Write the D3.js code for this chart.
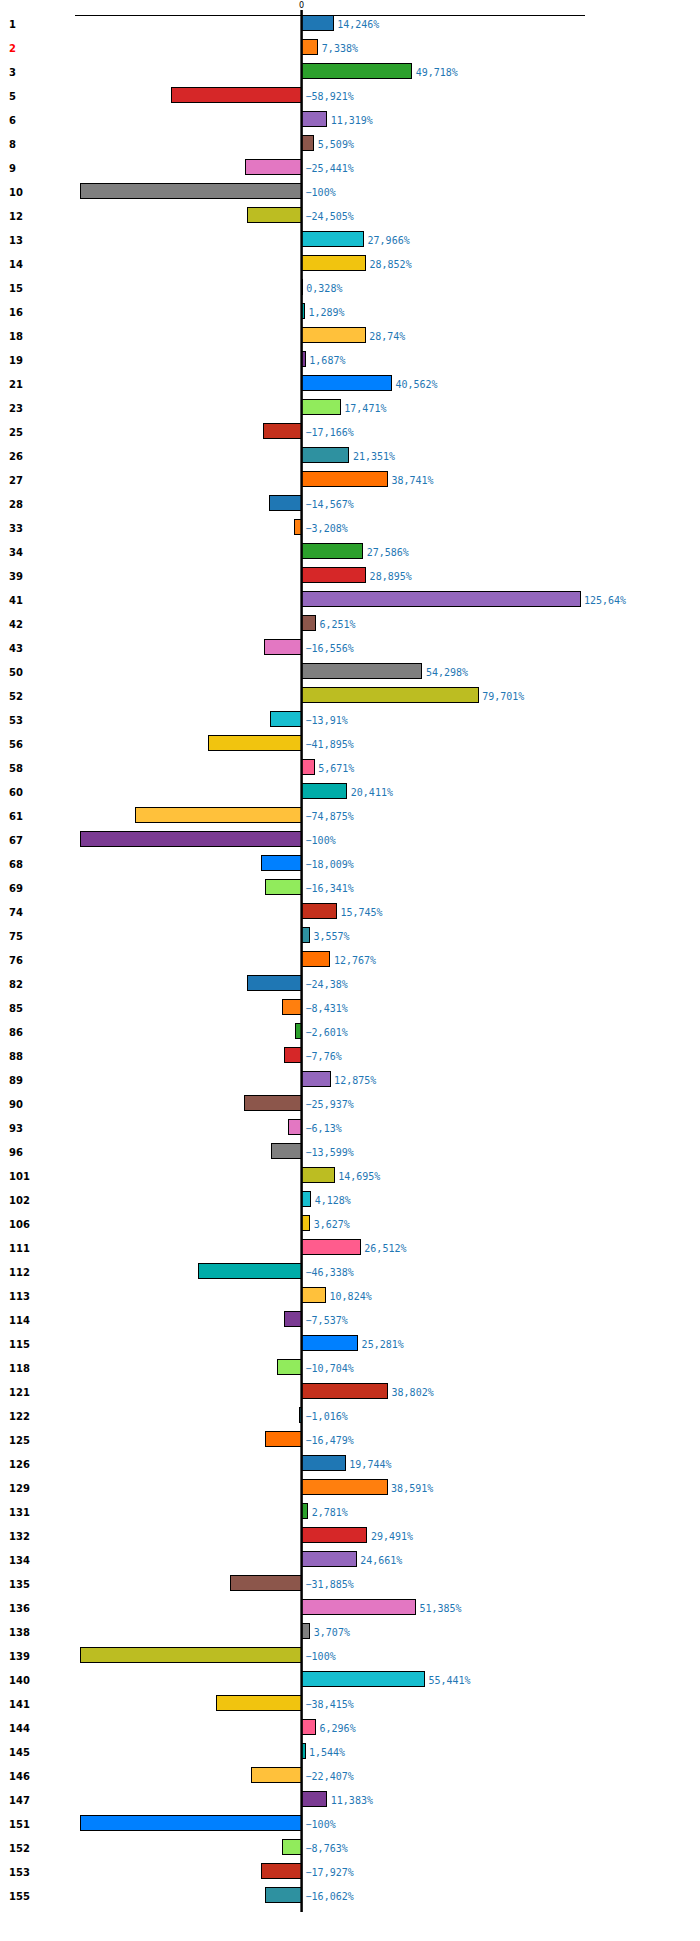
<!DOCTYPE html>
<html>
<head>
<meta charset="utf-8">
<script src="https://cdn.jsdelivr.net/npm/d3@7"></script>
<style>
  html, body { margin: 0; padding: 0; background: #fff; }
  svg { display: block; }
  text { -webkit-font-smoothing: none; }
</style>
</head>
<body>
<svg id="chart" width="700" height="1941"></svg>
<script>
const categories = ["1","2","3","5","6","8","9","10","12","13","14","15","16","18","19","21","23","25","26","27","28","33","34","39","41","42","43","50","52","53","56","58","60","61","67","68","69","74","75","76","82","85","86","88","89","90","93","96","101","102","106","111","112","113","114","115","118","121","122","125","126","129","131","132","134","135","136","138","139","140","141","144","145","146","147","151","152","153","155"];

const values = [14.246,7.338,49.718,-58.921,11.319,5.509,-25.441,-100,-24.505,27.966,28.852,0.328,1.289,28.74,1.687,40.562,17.471,-17.166,21.351,38.741,-14.567,-3.208,27.586,28.895,125.64,6.251,-16.556,54.298,79.701,-13.91,-41.895,5.671,20.411,-74.875,-100,-18.009,-16.341,15.745,3.557,12.767,-24.38,-8.431,-2.601,-7.76,12.875,-25.937,-6.13,-13.599,14.695,4.128,3.627,26.512,-46.338,10.824,-7.537,25.281,-10.704,38.802,-1.016,-16.479,19.744,38.591,2.781,29.491,24.661,-31.885,51.385,3.707,-100,55.441,-38.415,6.296,1.544,-22.407,11.383,-100,-8.763,-17.927,-16.062];

const highlighted = ["2"];

const palette = ["#1f77b4","#ff7f0e","#2ca02c","#d62728","#9467bd","#8c564b","#e377c2","#7f7f7f","#bcbd22","#17becf",
                 "#f1c40f","#ff5c8d","#00aca8","#ffc13b","#7b3b93","#0080ff","#91eb5c","#c4301c","#2e91a0","#ff7000"];

const xTicks = [0];

const data = categories.map((c, i) => ({ cat: c, value: values[i], idx: i }));

const svg = d3.select("#chart");

const x = d3.scaleLinear()
  .domain(d3.extent(values))
  .range([80, 580]);

const y = d3.scaleBand()
  .domain(categories)
  .range([6, 1911])
  .paddingInner(0.375)
  .paddingOuter(0.375);

const color = d3.scaleOrdinal().domain(d3.range(palette.length)).range(palette);

const locale = d3.formatLocale({ decimal: ",", thousands: ".", grouping: [3], currency: ["", ""] });
const fmt = locale.format(".3~f");

// top axis line
svg.append("line")
  .attr("x1", x.range()[0] - 5).attr("x2", x.range()[1] + 5)
  .attr("y1", 15.5).attr("y2", 15.5)
  .attr("stroke", "#000").attr("stroke-width", 1)
  .attr("shape-rendering", "crispEdges");

// bars
svg.append("g")
  .selectAll("rect")
  .data(data)
  .join("rect")
  .attr("x", d => x(Math.min(0, d.value)))
  .attr("y", d => y(d.cat))
  .attr("width", d => Math.abs(x(d.value) - x(0)))
  .attr("height", y.bandwidth())
  .attr("fill", d => color(d.idx % palette.length))
  .attr("stroke", "#000")
  .attr("stroke-width", 1)
  .attr("shape-rendering", "crispEdges");

// zero line
svg.append("line")
  .attr("x1", x(0)).attr("x2", x(0))
  .attr("y1", 10).attr("y2", 1912)
  .attr("stroke", "#000").attr("stroke-width", 2.5);

// tick label
svg.append("g")
  .selectAll("text")
  .data(xTicks)
  .join("text")
  .attr("x", d => x(d))
  .attr("y", 8)
  .attr("text-anchor", "middle")
  .attr("font-family", "DejaVu Sans, sans-serif")
  .attr("font-size", 8)
  .attr("fill", "#000")
  .text(d => d);

// category labels
svg.append("g")
  .selectAll("text")
  .data(data)
  .join("text")
  .attr("x", 9)
  .attr("y", d => y(d.cat) + y.bandwidth() / 2 + 5.3)
  .attr("font-family", "DejaVu Sans, sans-serif")
  .attr("font-weight", "bold")
  .attr("font-size", 10)
  .attr("fill", d => highlighted.includes(d.cat) ? "#ff0000" : "#000")
  .text(d => d.cat);

// value labels
svg.append("g")
  .selectAll("text")
  .data(data)
  .join("text")
  .attr("x", d => x(Math.max(0, d.value)) + 4)
  .attr("y", d => y(d.cat) + y.bandwidth() / 2 + 5.3)
  .attr("font-family", "DejaVu Sans Mono, monospace")
  .attr("font-size", 10)
  .attr("fill", "#1f77b4")
  .text(d => fmt(d.value) + "%");
</script>
</body>
</html>
